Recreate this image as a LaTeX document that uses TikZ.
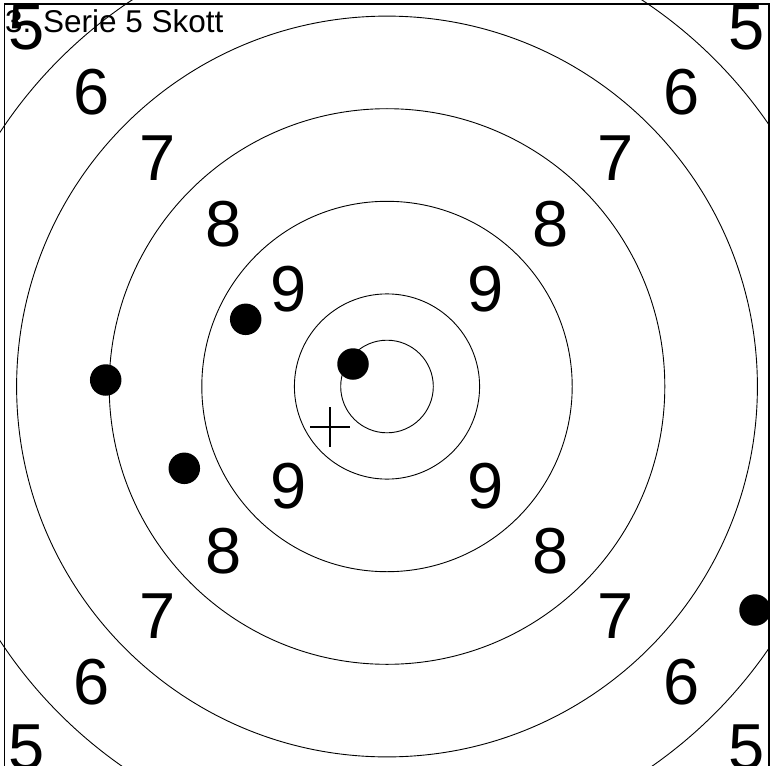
\documentclass[tikz,border=0pt]{standalone}
\usepackage{fontspec}
\setmainfont{Liberation Sans}
\usetikzlibrary{calc}
\begin{document}
\begin{tikzpicture}[x=1pt,y=-1pt,
  ring/.style={draw=black, line width=0.9pt},
  num/.style={font=\fontsize{65}{65}\selectfont, inner sep=0pt, anchor=base},
  shot/.style={fill=black, circle, minimum size=31.5pt, inner sep=0pt},
  frameline/.style={draw=black, line width=1.4pt},
  crossline/.style={draw=black, line width=2pt},
]
\useasboundingbox (0,0) rectangle (770,765);
\clip (0,0) rectangle (770,765);
\coordinate (c) at (387,386.5);
\foreach \r in {46.3,92.6,185.2,277.8,370.4,463} \draw[ring] (c) circle[radius=\r pt];
% score numbers
\foreach \d/\o in {9/98.5,8/163.5,7/229,6/295,5/360}{
  \node[num] (tl\d) at ($(c)+(-\o,-\o+23.3)$) {\d};
  \node[num] (tr\d) at ($(c)+(\o,-\o+23.3)$) {\d};
  \node[num] (bl\d) at ($(c)+(-\o,\o+23.3)$) {\d};
  \node[num] (br\d) at ($(c)+(\o,\o+23.3)$) {\d};
}
% shots
\node[shot] (s1) at (353,364) {};
\node[shot] (s2) at (245.7,319.3) {};
\node[shot] (s3) at (105.7,380) {};
\node[shot] (s4) at (184.3,468.3) {};
\node[shot] (s5) at (755,610) {};
% mean point cross
\coordinate (m) at (330.3,427);
\draw[crossline] ($(m)+(-20,0)$) -- ($(m)+(20,0)$);
\draw[crossline] ($(m)+(0,-20)$) -- ($(m)+(0,20)$);
% frame
\draw[frameline] (4.5,775) -- (4.5,4) -- (769,4) -- (769,775);
% title
\node[font=\fontsize{31.5}{31.5}\selectfont, inner sep=0pt, anchor=base west] (title) at (5,33) {3. Serie 5 Skott};
\end{tikzpicture}
\end{document}
